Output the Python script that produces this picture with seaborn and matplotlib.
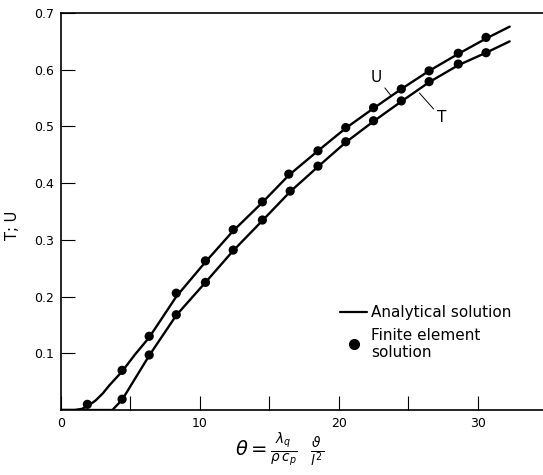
import matplotlib
matplotlib.use("Agg")
import matplotlib.pyplot as plt
from matplotlib.lines import Line2D
import seaborn as sns
import pandas as pd

# finite element points
u_fe_x = [1.9, 4.4, 6.35, 8.3, 10.4, 12.4, 14.5, 16.4, 18.5, 20.5, 22.5, 24.5, 26.5, 28.6, 30.6]
u_fe_y = [0.010, 0.070, 0.130, 0.206, 0.263, 0.318, 0.367, 0.416, 0.457, 0.498, 0.533, 0.566, 0.598, 0.629, 0.657]
t_fe_x = [4.4, 6.35, 8.3, 10.4, 12.4, 14.5, 16.5, 18.5, 20.5, 22.5, 24.5, 26.5, 28.6, 30.6]
t_fe_y = [0.019, 0.097, 0.168, 0.225, 0.282, 0.335, 0.386, 0.430, 0.473, 0.510, 0.545, 0.579, 0.610, 0.630]

# analytical curves, read at a few positions
u_an_x = [0, 1.0, 1.5, 2.0, 2.5, 3.0, 3.5, 4.4, 5.3, 6.35, 7.3, 8.3, 10.4, 12.4, 14.5, 16.4, 18.5, 20.5, 22.5, 24.5, 26.5, 28.6, 30.6, 32.3]
u_an_y = [0, 0.0, 0.002, 0.008, 0.017, 0.029, 0.044, 0.068, 0.097, 0.128, 0.163, 0.200, 0.261, 0.316, 0.366, 0.414, 0.457, 0.497, 0.532, 0.566, 0.598, 0.628, 0.655, 0.676]
t_an_x = [0, 3.7, 4.4, 6.35, 8.3, 10.4, 12.4, 14.5, 16.5, 18.5, 20.5, 22.5, 24.5, 26.5, 28.6, 30.6, 32.3]
t_an_y = [0, 0.0, 0.018, 0.096, 0.167, 0.225, 0.281, 0.334, 0.385, 0.429, 0.472, 0.509, 0.544, 0.578, 0.608, 0.630, 0.650]

x_ticks = [0, 5, 10, 15, 20, 25, 30]
x_labels = ["0", "", "10", "", "20", "", "30"]
y_ticks = [0.1, 0.2, 0.3, 0.4, 0.5, 0.6, 0.7]
y_labels = ["0.1", "0.2", "0.3", "0.4", "0.5", "0.6", "0.7"]

sns.set_style("ticks")
plt.rcParams["font.family"] = ["DejaVu Sans"]
plt.rcParams["text.color"] = "black"
plt.rcParams["xtick.color"] = "black"
plt.rcParams["ytick.color"] = "black"
plt.rcParams["axes.labelcolor"] = "black"

fig = plt.figure(figsize=(5.43, 4.75), dpi=100)
ax = fig.add_axes([0.1123, 0.1368, 0.8877, 0.8358])

u_line = pd.DataFrame({"x": u_an_x, "y": u_an_y})
t_line = pd.DataFrame({"x": t_an_x, "y": t_an_y})
sns.lineplot(data=u_line, x="x", y="y", ax=ax, color="black", lw=1.7, sort=False)
sns.lineplot(data=t_line, x="x", y="y", ax=ax, color="black", lw=1.7, sort=False)
sns.scatterplot(x=u_fe_x, y=u_fe_y, ax=ax, color="black", s=44, edgecolor="none", zorder=3)
sns.scatterplot(x=t_fe_x, y=t_fe_y, ax=ax, color="black", s=44, edgecolor="none", zorder=3)

ax.set_xlim(0, 34.7)
ax.set_ylim(0, 0.7)
ax.set_xticks(x_ticks)
ax.set_xticklabels(x_labels)
ax.set_yticks(y_ticks)
ax.set_yticklabels(y_labels)
ax.tick_params(direction="in", length=10, width=0.8, labelsize=9, pad=5, color="black")
ax.spines["right"].set_visible(False)
for s in ["left", "bottom", "top"]:
    ax.spines[s].set_linewidth(1.2)
    ax.spines[s].set_color("black")

ax.set_xlabel(r"$\theta = \frac{\lambda_q}{\rho\, c_p}\ \ \frac{\vartheta}{l^2}$", fontsize=14)
ax.xaxis.set_label_coords(0.454, -0.10, transform=ax.transAxes)
ax.xaxis.label.set_va("center")
ax.set_ylabel("T; U", fontsize=10.5)
ax.yaxis.set_label_coords(-0.10, 0.466, transform=ax.transAxes)
ax.yaxis.label.set_va("center")

# curve labels
ax.annotate("U", xy=(23.8, 0.553), xytext=(22.7, 0.587), fontsize=11,
            ha="center", va="center",
            arrowprops=dict(arrowstyle="-", lw=0.7, color="black", shrinkA=0, shrinkB=0))
ax.annotate("T", xy=(25.8, 0.559), xytext=(27.4, 0.515), fontsize=11,
            ha="center", va="center",
            arrowprops=dict(arrowstyle="-", lw=0.7, color="black", shrinkA=0, shrinkB=0))

handles = [Line2D([], [], color="black", lw=1.6),
           Line2D([], [], color="black", marker="o", ls="none", markersize=7)]
ax.legend(handles, ["Analytical solution", "Finite element\nsolution"],
          loc="upper left", bbox_to_anchor=(0.566, 0.28), frameon=False,
          fontsize=11, handlelength=1.8, handletextpad=0.25, labelspacing=0.5,
          borderaxespad=0)

fig.savefig("out.png", dpi=100)
